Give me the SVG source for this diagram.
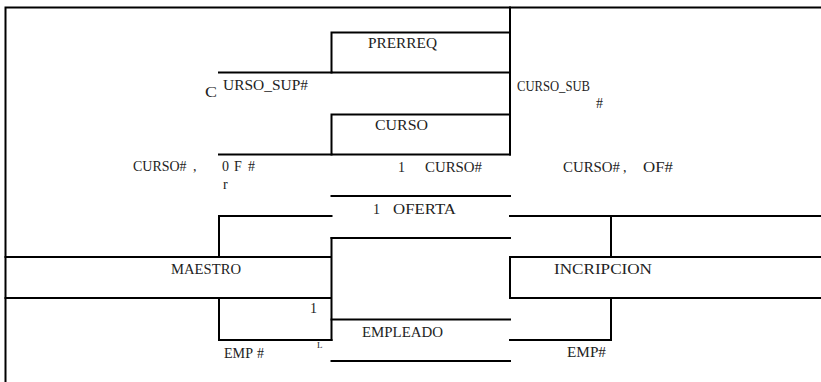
<svg xmlns="http://www.w3.org/2000/svg" width="821" height="382" viewBox="0 0 821 382">
<style>
  .ln{fill:none;stroke:#000;stroke-width:2;stroke-linecap:square}
  .t{font-family:"Liberation Serif","Times New Roman",serif;font-size:14px;fill:#222}
  .s{font-size:9px}
</style>
<rect width="821" height="382" fill="#fff"/>
<g id="connectors" class="ln">
  <path d="M5.5,7.5 H821 M5.5,7.5 V382"/>
  <path d="M510,7.5 V154.5"/>
  <path d="M219,72.5 H331.5"/>
  <path d="M219,154.5 H331.5"/>
  <path d="M219,216 H331.5 M219,216 V257"/>
  <path d="M510,216 H821 M611,216 V257"/>
  <path d="M219,298 V340 H331.5"/>
  <path d="M611,298 V340 H510"/>
</g>
<g id="PRERREQ">
  <path class="ln" d="M510,32.5 H331.5 V72.5 H510"/>
  <text class="t" x="368" y="48" textLength="69" lengthAdjust="spacingAndGlyphs">PRERREQ</text>
</g>
<g id="CURSO">
  <path class="ln" d="M510,114.5 H331.5 V154.5 H510"/>
  <text class="t" x="375" y="130" textLength="53" lengthAdjust="spacingAndGlyphs">CURSO</text>
</g>
<g id="OFERTA">
  <path class="ln" d="M331.5,196 H510 M510,238 H331.5"/>
  <text class="t" x="373" y="214">1 <tspan textLength="63" lengthAdjust="spacingAndGlyphs" x="393">OFERTA</tspan></text>
</g>
<g id="MAESTRO">
  <path class="ln" d="M5.5,257 H331.5 M5.5,298 H331.5 M331.5,238 V340"/>
  <text class="t" x="171" y="274" textLength="70" lengthAdjust="spacingAndGlyphs">MAESTRO</text>
</g>
<g id="INCRIPCION">
  <path class="ln" d="M821,257 H510 V298 H821"/>
  <text class="t" x="554" y="274" textLength="98" lengthAdjust="spacingAndGlyphs">INCRIPCION</text>
</g>
<g id="EMPLEADO">
  <path class="ln" d="M331.5,319.5 H510 M331.5,361 H510"/>
  <text class="t" x="362" y="337" textLength="81" lengthAdjust="spacingAndGlyphs">EMPLEADO</text>
</g>
<g id="labels">
  <text class="t" x="205" y="97" font-size="18" textLength="12" lengthAdjust="spacingAndGlyphs">C</text>
  <text class="t" x="223" y="90" textLength="85" lengthAdjust="spacingAndGlyphs">URSO_SUP#</text>
  <text class="t" x="517" y="91" textLength="73" lengthAdjust="spacingAndGlyphs">CURSO_SUB</text>
  <text class="t" x="596" y="108">#</text>
  <text class="t" x="133" y="171" textLength="57" lengthAdjust="spacingAndGlyphs">CURSO#<tspan x="193">,</tspan></text>
  <text class="t" x="222" y="171">0<tspan x="234">F</tspan><tspan x="248">#</tspan></text>
  <text class="t" x="223" y="189">r</text>
  <text class="t" x="398" y="172">1</text>
  <text class="t" x="425" y="172" textLength="57" lengthAdjust="spacingAndGlyphs">CURSO#</text>
  <text class="t" x="563" y="172"><tspan textLength="57" lengthAdjust="spacingAndGlyphs">CURSO#</tspan><tspan x="623">,</tspan><tspan x="643" textLength="30" lengthAdjust="spacingAndGlyphs">OF#</tspan></text>
  <text class="t" x="310" y="313">1</text>
  <text class="t" x="224" y="358"><tspan textLength="29" lengthAdjust="spacingAndGlyphs">EMP</tspan><tspan x="257">#</tspan></text>
  <text class="t s" x="317" y="348">L</text>
  <text class="t" x="567" y="357" textLength="39" lengthAdjust="spacingAndGlyphs">EMP#</text>
</g>
</svg>
